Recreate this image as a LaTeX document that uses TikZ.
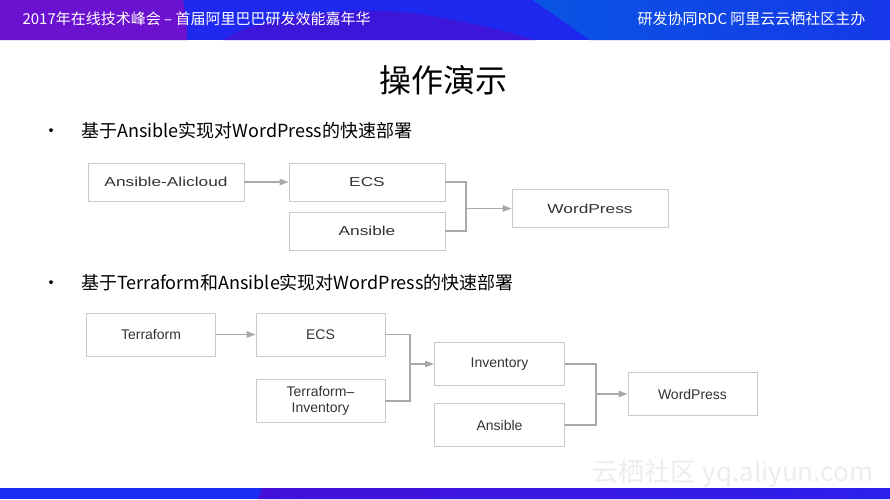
\documentclass[tikz,border=0pt]{standalone}
\usepackage{fontspec}
\setmainfont{Noto Sans CJK SC}
\newfontfamily\boxfont[FakeStretch=1.33]{Liberation Sans}
\newfontfamily\flowfont{Liberation Sans}
\usetikzlibrary{arrows.meta}

\definecolor{hdrpurple}{HTML}{6B12D1}
\definecolor{hdrblue}{HTML}{1E28EE}
\definecolor{hdrdark}{HTML}{3C17DA}
\definecolor{hdrlight}{HTML}{0A55E4}
\definecolor{hdrright}{HTML}{1538E8}
\definecolor{ftblue}{HTML}{1A2DF4}
\definecolor{ftpurple}{HTML}{4410D8}
\definecolor{ftright}{HTML}{2C20EC}
\definecolor{boxgray}{HTML}{C9C9C9}
\definecolor{linegray}{HTML}{A9A9A9}
\definecolor{txtgray}{HTML}{333333}

\tikzset{
	blk/.style={draw=boxgray, line width=0.9pt, fill=white, text=txtgray, inner sep=0pt},
	blkA/.style={blk, minimum width=156pt, minimum height=38pt, font=\boxfont\fontsize{13}{13}\selectfont},
	blkB/.style={blk, minimum width=129pt, minimum height=43pt, align=center, font=\flowfont\fontsize{14}{16}\selectfont},
	conn/.style={draw=linegray, line width=1.2pt},
	arr/.style={conn, -{Triangle[length=9pt,width=6.5pt]}},
}

\begin{document}
\begin{tikzpicture}[x=1pt, y=-1pt]
		%%%%% START %%%%%
		
		\useasboundingbox (0, 0) rectangle (890, 499);
		\fill[white] (0, 0) rectangle (890, 499);
		
		% header bar
		\begin{scope}
			\clip (0, 0) rectangle (890, 40);
			\fill[hdrblue] (0, 0) rectangle (890, 40);
			\shade[left color=hdrlight, right color=hdrright] (533, 0) -- (890, 0) -- (890, 40) -- (590, 40) -- cycle;
			\fill[hdrdark] (223, 40) .. controls (260, 15) and (350, 5) .. (420, 14) .. controls (470, 22) and (510, 32) .. (535, 40) -- cycle;
			\fill[hdrpurple] (0, 0) -- (183, 0) .. controls (186, 14) and (187, 28) .. (187, 40) -- (0, 40) -- cycle;
		\end{scope}
		
		\node[anchor=west, text=white, font=\fontsize{15}{15}\selectfont] (hdrL) at (19, 19) {2017年在线技术峰会 – 首届阿里巴巴研发效能嘉年华};
		\node[anchor=east, text=white, font=\fontsize{15}{15}\selectfont] (hdrR) at (869, 19) {研发协同RDC 阿里云云栖社区主办};
		
		% footer bar
		\fill[ftblue] (0, 488) rectangle (263, 499);
		\shade[left color=ftpurple, right color=ftright] (262, 488) -- (890, 488) -- (890, 499) -- (258, 499) -- cycle;
		
		\node[text=black!7, font=\fontsize{26}{26}\selectfont] (mark) at (733, 474) {云栖社区 yq.aliyun.com};
		
		% title and bullets
		\node[font=\fontsize{32}{32}\selectfont] (title) at (443.5, 80) {操作演示};
		
		\node[anchor=west, inner sep=0pt, font=\fontsize{18}{18}\selectfont] (bulA) at (81, 131) {基于Ansible实现对WordPress的快速部署};
		\node[anchor=base, inner sep=0pt, font=\fontsize{18}{18}\selectfont] (dotA) at ([xshift=-30pt]bulA.base west) {•};
		
		\node[anchor=west, inner sep=0pt, font=\fontsize{18}{18}\selectfont] (bulB) at (81, 283) {基于Terraform和Ansible实现对WordPress的快速部署};
		\node[anchor=base, inner sep=0pt, font=\fontsize{18}{18}\selectfont] (dotB) at ([xshift=-30pt]bulB.base west) {•};
		
		% first flow
		\node[blkA] (alicloud) at (166, 182) {Ansible-Alicloud};
		\node[blkA] (ecsA) at (367, 182) {ECS};
		\node[blkA] (ansA) at (367, 231) {Ansible};
		\node[blkA] (wpA) at (590, 208.5) {WordPress};
		\coordinate (jA) at (466, 208.5);
		
		\draw[arr] (alicloud) -- (ecsA);
		\draw[conn] (ecsA.east) -| (jA);
		\draw[conn] (ansA.east) -| (jA);
		\draw[arr] (jA) -- (wpA);
		
		% second flow
		\node[blkB] (terra) at (151, 334.5) {Terraform};
		\node[blkB] (ecsB) at (320.5, 334.5) {ECS};
		\node[blkB] (tfinv) at (320.5, 401) {Terraform–\\Inventory};
		\node[blkB, minimum width=130pt] (invB) at (499.5, 364) {Inventory};
		\node[blkB, minimum width=130pt] (ansB) at (499.5, 425) {Ansible};
		\node[blkB] (wpB) at (692.5, 394) {WordPress};
		\coordinate (jB) at (410, 364);
		\coordinate (jC) at (596, 394);
		
		\draw[arr] (terra) -- (ecsB);
		\draw[conn] (ecsB.east) -| (jB);
		\draw[conn] (tfinv.east) -| (jB);
		\draw[arr] (jB) -- (invB);
		\draw[conn] (invB.east) -| (jC);
		\draw[conn] (ansB.east) -| (jC);
		\draw[arr] (jC) -- (wpB);
		
		%%%%% END %%%%%
\end{tikzpicture}
\end{document}
